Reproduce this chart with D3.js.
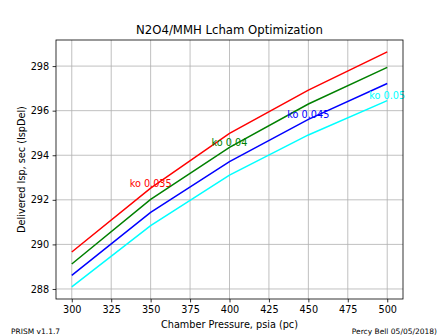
<!DOCTYPE html>
<html><head><meta charset="utf-8">
<script src="https://cdn.jsdelivr.net/npm/d3@7"></script>
<style>body{margin:0;background:#fff;} svg{display:block;font-family:"DejaVu Sans",sans-serif;}</style>
</head><body>
<svg id="c" width="448" height="336"></svg>
<script>
const pressures = [300, 350, 400, 450, 500];
const seriesNames = ["ko 0.035", "ko 0.04", "ko 0.045", "ko 0.05"];
const seriesColors = ["#ff0000", "#008000", "#0000ff", "#00ffff"];
const isp035 = [289.66, 292.52, 294.98, 296.92, 298.64];
const isp040 = [289.12, 292.02, 294.35, 296.30, 297.94];
const isp045 = [288.61, 291.44, 293.71, 295.61, 297.22];
const isp050 = [288.09, 290.84, 293.11, 294.91, 296.45];
const labelAt = [350, 400, 450, 500];
const xTicks = [300, 325, 350, 375, 400, 425, 450, 475, 500];
const yTicks = [288, 290, 292, 294, 296, 298];
const allSeries = [isp035, isp040, isp045, isp050];

const svg = d3.select("#c");
const L = 56, R = 403, T = 40, B = 299;
const x = d3.scaleLinear().domain([290, 510]).range([L, R]);
const y = d3.scaleLinear().domain([287.55, 299.17]).range([B, T]);

// grid
const g = svg.append("g");
g.selectAll(".vx").data(xTicks).enter().append("line")
  .attr("x1", d => x(d)).attr("x2", d => x(d)).attr("y1", T).attr("y2", B)
  .attr("stroke", "#b0b0b0").attr("stroke-width", 0.8);
g.selectAll(".hy").data(yTicks).enter().append("line")
  .attr("y1", d => y(d)).attr("y2", d => y(d)).attr("x1", L).attr("x2", R)
  .attr("stroke", "#b0b0b0").attr("stroke-width", 0.8);

// lines
const line = d3.line().x((d, i) => x(pressures[i])).y(d => y(d));
allSeries.forEach((s, k) => {
  svg.append("path").datum(s).attr("d", line).attr("fill", "none")
    .attr("stroke", seriesColors[k]).attr("stroke-width", 1.5);
  const idx = pressures.indexOf(labelAt[k]);
  svg.append("text").attr("x", x(labelAt[k])).attr("y", y(s[idx]) - 1.5)
    .attr("text-anchor", "middle").attr("font-size", "9.7px")
    .attr("fill", seriesColors[k]).text(seriesNames[k]);
});

// axes
const xa = svg.append("g").attr("transform", `translate(0,${B})`)
  .call(d3.axisBottom(x).tickValues(xTicks).tickSize(3.4).tickPadding(3.4));
const ya = svg.append("g").attr("transform", `translate(${L},0)`)
  .call(d3.axisLeft(y).tickValues(yTicks).tickSize(3.4).tickPadding(3.4));
[xa, ya].forEach(a => {
  a.select(".domain").remove();
  a.selectAll("text").attr("font-size", "9.7px").attr("font-family", "DejaVu Sans").attr("fill", "#000");
  a.selectAll("line").attr("stroke", "#000").attr("stroke-width", 0.8);
});
svg.append("rect").attr("x", L).attr("y", T).attr("width", R - L).attr("height", B - T)
  .attr("fill", "none").attr("stroke", "#000").attr("stroke-width", 0.8);

// titles
svg.append("text").attr("x", (L + R) / 2).attr("y", 34).attr("text-anchor", "middle")
  .attr("font-size", "11.7px").text("N2O4/MMH Lcham Optimization");
svg.append("text").attr("x", (L + R) / 2).attr("y", 328).attr("text-anchor", "middle")
  .attr("font-size", "9.7px").text("Chamber Pressure, psia (pc)");
svg.append("text").attr("transform", `translate(24.5,${(T + B) / 2}) rotate(-90)`)
  .attr("text-anchor", "middle").attr("font-size", "9.7px").text("Delivered Isp, sec (IspDel)");
svg.append("text").attr("x", 11).attr("y", 334).attr("font-size", "7.5px").text("PRISM v1.1.7");
svg.append("text").attr("x", 437).attr("y", 334).attr("text-anchor", "end").attr("font-size", "7.5px").text("Percy Bell 05/05/2018)");
</script>
</body></html>
